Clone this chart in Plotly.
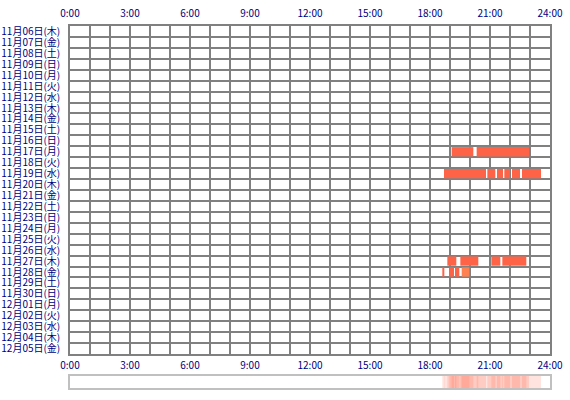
import plotly.graph_objects as go

# rows (one per day)
days = ["11月06日(木)", "11月07日(金)", "11月08日(土)", "11月09日(日)", "11月10日(月)",
        "11月11日(火)", "11月12日(水)", "11月13日(木)", "11月14日(金)", "11月15日(土)",
        "11月16日(日)", "11月17日(月)", "11月18日(火)", "11月19日(水)", "11月20日(木)",
        "11月21日(金)", "11月22日(土)", "11月23日(日)", "11月24日(月)", "11月25日(火)",
        "11月26日(水)", "11月27日(木)", "11月28日(金)", "11月29日(土)", "11月30日(日)",
        "12月01日(月)", "12月02日(火)", "12月03日(水)", "12月04日(木)", "12月05日(金)"]

# activity segments
seg_day = ["11月17日(月)", "11月17日(月)",
           "11月19日(水)", "11月19日(水)", "11月19日(水)", "11月19日(水)", "11月19日(水)", "11月19日(水)",
           "11月27日(木)", "11月27日(木)", "11月27日(木)", "11月27日(木)",
           "11月28日(金)", "11月28日(金)", "11月28日(金)", "11月28日(金)"]
seg_start = ["19:05", "20:20",
             "18:42", "20:52", "21:21", "21:43", "22:06", "22:36",
             "18:52", "19:31", "21:04", "21:37",
             "18:37", "18:58", "19:15", "19:35"]
seg_end = ["20:10", "22:57",
           "20:48", "21:16", "21:39", "22:00", "22:30", "23:33",
           "19:19", "20:25", "21:31", "22:49",
           "18:43", "19:12", "19:28", "19:58"]
seg_color = ["#ff6347"] * 15 + ["#ff8050"]

hour_ticks = [0, 3, 6, 9, 12, 15, 18, 21, 24]
hour_labels = ["0:00", "3:00", "6:00", "9:00", "12:00", "15:00", "18:00", "21:00", "24:00"]


def to_hours(s):
    h, m = s.split(":")
    return int(h) + int(m) / 60


starts = [to_hours(s) for s in seg_start]
ends = [to_hours(s) for s in seg_end]
lengths = [e - s for s, e in zip(starts, ends)]
rows = [days.index(d) for d in seg_day]

navy = "#000080"
grid = "#808080"
font = dict(family="Noto Sans CJK JP", size=10, color=navy)

fig = go.Figure()
fig.add_trace(go.Bar(y=rows, x=lengths, base=starts, orientation="h",
                     marker=dict(color=seg_color, line=dict(width=0)), width=0.85,
                     xaxis="x", yaxis="y", showlegend=False))
# dummy for bottom axis
fig.add_trace(go.Scatter(x=[0], y=[0], xaxis="x2", yaxis="y", mode="markers",
                         marker=dict(opacity=0), showlegend=False, hoverinfo="skip"))
# summary strip
fig.add_trace(go.Bar(y=[0] * len(starts), x=lengths, base=starts, orientation="h",
                     marker=dict(color="#ff6347", opacity=0.18, line=dict(width=0)), width=1,
                     xaxis="x3", yaxis="y2", showlegend=False))

H = 400
top, grid_bottom, strip_top, strip_bottom = 26, 354, 376, 388
plot_h = strip_bottom - top
main_dom = [(strip_bottom - grid_bottom) / plot_h, 1]
strip_dom = [0, (strip_bottom - strip_top) / plot_h]

fig.update_layout(
    width=570, height=H,
    margin=dict(l=70, r=20, t=top, b=H - strip_bottom, autoexpand=False),
    paper_bgcolor="white", plot_bgcolor="white",
    barmode="overlay",
    font=font,
    xaxis=dict(range=[0, 24], side="top", anchor="y", tickvals=hour_ticks, ticktext=hour_labels,
               showgrid=True, gridcolor=grid, gridwidth=1.5,
               minor=dict(dtick=1, tick0=0, showgrid=True, gridcolor=grid, gridwidth=1.5),
               showline=True, linecolor=grid, linewidth=1.5, mirror=True, automargin=False,
               ticks="", ticklabelstandoff=3, zeroline=False, fixedrange=True),
    xaxis2=dict(range=[0, 24], overlaying="x", side="bottom", anchor="y", matches="x",
                tickvals=hour_ticks, ticktext=hour_labels, showgrid=False, automargin=False,
                ticks="", ticklabelstandoff=4, zeroline=False),
    xaxis3=dict(range=[0, 24], anchor="y2", domain=[0, 1], showticklabels=False, ticks="",
                showgrid=False, zeroline=False, showline=True, linecolor="#c0c0c0",
                linewidth=1.5, mirror=True, automargin=False),
    yaxis=dict(domain=main_dom, range=[29.5, -0.5], anchor="x", automargin=False,
               tickvals=list(range(len(days))), ticktext=days, showgrid=False,
               minor=dict(tickvals=[i - 0.5 for i in range(len(days) + 1)], showgrid=True,
                          gridcolor=grid, gridwidth=1.5),
               showline=True, linecolor=grid, linewidth=1.5, mirror=True,
               ticks="", ticklabelstandoff=6, zeroline=False),
    yaxis2=dict(domain=strip_dom, range=[-0.5, 0.5], anchor="x3", showticklabels=False,
                ticks="", showgrid=False, zeroline=False, showline=True, automargin=False,
                linecolor="#c0c0c0", linewidth=1.5, mirror=True),
)

# drop the default page margin so the figure sits at the window's corner
fig.write_html("out.html", config={"displayModeBar": False},
               post_script="document.body.style.margin='0';")
